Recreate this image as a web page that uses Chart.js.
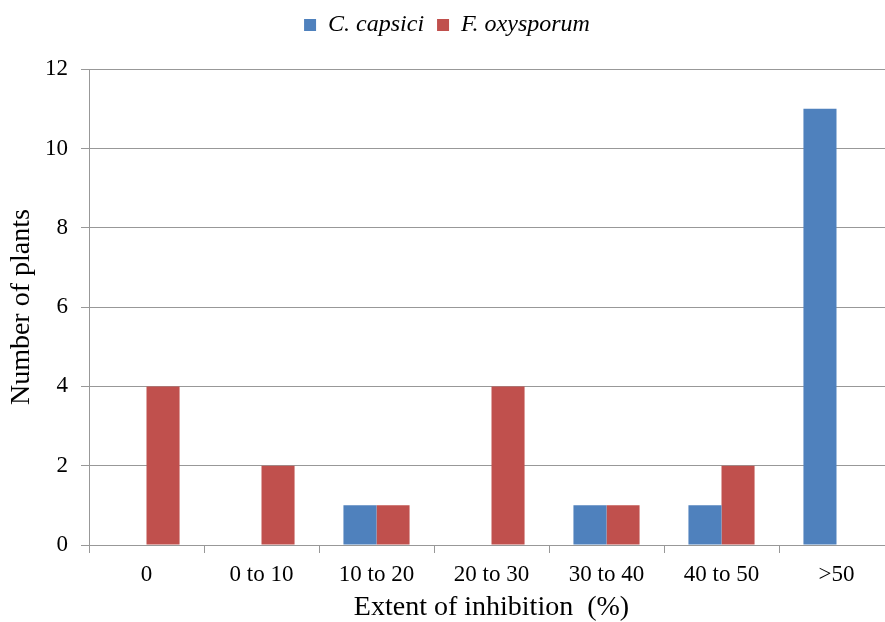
<!DOCTYPE html>
<html>
<head>
<meta charset="utf-8">
<title>Extent of inhibition</title>
<script src="https://cdn.jsdelivr.net/npm/chart.js@4/dist/chart.umd.min.js"></script>
<style>
  html, body { margin: 0; padding: 0; background: #ffffff; overflow: hidden; }
  #wrap { width: 885px; height: 622px; overflow: hidden; }
  canvas { display: block; }
</style>
</head>
<body>
<div id="wrap"><canvas id="chart" width="900" height="622"></canvas></div>
<script>
// Inhibition classes (%)
const categories = ['0', '0 to 10', '10 to 20', '20 to 30', '30 to 40', '40 to 50', '>50'];
// Number of plants per class for each pathogen
const capsiciCounts = [0, 0, 1, 0, 1, 1, 11];
const oxysporumCounts = [4, 2, 1, 4, 1, 2, 0];
const seriesNames = ['C. capsici', 'F. oxysporum'];
const yTicks = [0, 2, 4, 6, 8, 10, 12];

const serif = "'Liberation Serif', 'Times New Roman', Times, serif";
const gridGrey = '#989898';

new Chart(document.getElementById('chart'), {
  type: 'bar',
  data: {
    labels: categories,
    datasets: [
      { label: seriesNames[0], data: capsiciCounts, backgroundColor: '#4F81BD', borderWidth: 0 },
      { label: seriesNames[1], data: oxysporumCounts, backgroundColor: '#C0504D', borderWidth: 0 }
    ]
  },
  options: {
    responsive: false,
    animation: false,
    devicePixelRatio: 1,
    layout: { padding: { top: 0, left: 0, right: 6, bottom: 0 } },
    datasets: { bar: { categoryPercentage: 0.575, barPercentage: 1.0 } },
    plugins: {
      legend: {
        position: 'top',
        labels: {
          boxWidth: 12,
          boxHeight: 12,
          padding: 13,
          color: '#000000',
          font: { family: serif, size: 24, style: 'italic' }
        }
      },
      // spacer between the legend and the plot area
      subtitle: {
        display: true,
        text: '',
        weight: 500,
        font: { size: 1 },
        padding: { top: 10, bottom: 11 }
      },
      tooltip: { enabled: false }
    },
    scales: {
      x: {
        grid: {
          drawOnChartArea: false,
          drawTicks: true,
          tickLength: 8,
          color: gridGrey,
          lineWidth: 1
        },
        border: { display: true, color: gridGrey, width: 1 },
        ticks: {
          padding: 8,
          color: '#000000',
          font: { family: serif, size: 23 }
        },
        title: {
          display: true,
          text: 'Extent of inhibition  (%)',
          color: '#000000',
          font: { family: serif, size: 28, lineHeight: 1 },
          padding: { top: 0, bottom: 0 }
        },
        afterFit(scale) { scale.height = 77; }
      },
      y: {
        min: 0,
        max: 12,
        afterBuildTicks(scale) { scale.ticks = yTicks.map(v => ({ value: v })); },
        grid: {
          color: gridGrey,
          lineWidth: 1,
          drawTicks: true,
          tickLength: 8
        },
        border: { display: true, color: gridGrey, width: 1 },
        ticks: {
          padding: 13,
          color: '#000000',
          font: { family: serif, size: 23 }
        },
        title: {
          display: true,
          text: 'Number of plants',
          color: '#000000',
          font: { family: serif, size: 28, lineHeight: 1 },
          padding: { top: 8, bottom: 0 }
        },
        afterFit(scale) { scale.width = 89; }
      }
    }
  }
});
</script>
</body>
</html>
